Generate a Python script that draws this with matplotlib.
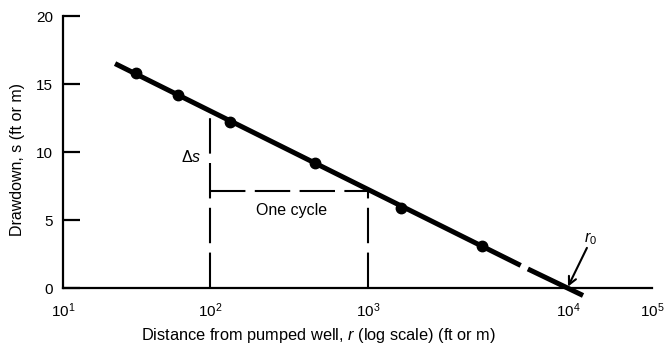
import numpy as np
import matplotlib
matplotlib.use('Agg')
from matplotlib import pyplot as plt

plt.rcParams['font.family'] = ['Liberation Sans', 'DejaVu Sans']
plt.rcParams['mathtext.fontset'] = 'custom'
plt.rcParams['mathtext.rm'] = 'Liberation Sans'
plt.rcParams['mathtext.it'] = 'Liberation Sans:italic'

# observed drawdown at observation wells
dist_obs = [31.4, 60.5, 134, 462, 1462, 3715]
drawdown_obs = [15.8, 14.2, 12.2, 9.2, 5.9, 3.1]

# fitted straight line (solid part and dashed extrapolation to r0)
fit_x = [22.6, 5800]
fit_y = [16.5, 1.66]
ext_x = [6300, 15100]
ext_y = [1.4, -0.55]

# one log cycle construction
cycle_x = [100, 1000]
cycle_top = 12.95
cycle_s = 7.1

x_ticks = [1e1, 1e2, 1e3, 1e4, 1e5]
x_ticklabels = ['$10^{1}$', '$10^{2}$', '$10^{3}$', '$10^{4}$', '$10^{5}$']
y_ticks = [0, 5, 10, 15, 20]

# the printed axis is not evenly spaced per decade: piecewise log mapping
decades = [1, 2, 3, 4, 5]
decade_px = [63, 210, 368, 568, 652]


def forward(x):
    x = np.asarray(x, dtype=float)
    lx = np.log10(np.where(x > 0, x, 1e-300))
    return np.interp(lx, decades, decade_px)


def inverse(p):
    p = np.asarray(p, dtype=float)
    return 10 ** np.interp(p, decade_px, decades)


fig = plt.figure(figsize=(6.64, 3.47), dpi=100)
ax = fig.add_axes([63 / 664, 1 - 288 / 347, 589 / 664, 272 / 347])
ax.set_xscale('function', functions=(forward, inverse))
ax.set_xlim(10, 1e5)
ax.set_ylim(0, 20)

for side in ['top', 'right']:
    ax.spines[side].set_visible(False)
for side in ['left', 'bottom']:
    ax.spines[side].set_linewidth(1.6)

ax.set_xticks(x_ticks)
ax.set_xticklabels(x_ticklabels)
ax.set_xticks([1e5], minor=True)
ax.set_yticks(y_ticks)
ax.tick_params(axis='x', which='major', length=0, pad=10, labelsize=11)
ax.tick_params(axis='x', which='minor', direction='in', length=11, width=1.6)
ax.tick_params(axis='y', direction='in', length=12, width=1.6, pad=7, labelsize=11)
ax.yaxis.set_minor_locator(matplotlib.ticker.NullLocator())

# construction lines
dash = (0, (17, 4.5))
ax.plot([cycle_x[0], cycle_x[0]], [0, cycle_top], color='black', lw=1.5, ls=dash, clip_on=False)
ax.plot([cycle_x[1], cycle_x[1]], [0, cycle_s], color='black', lw=1.5, ls=dash, clip_on=False)
ax.plot(cycle_x, [cycle_s, cycle_s], color='black', lw=1.5, ls=dash, clip_on=False)

# fitted line and data
ax.plot(fit_x, fit_y, color='black', lw=3.6, solid_capstyle='butt', clip_on=False)
ax.plot(ext_x, ext_y, color='black', lw=3.6, solid_capstyle='butt', clip_on=False)
ax.plot(dist_obs, drawdown_obs, 'o', color='black', ms=7.5, clip_on=False)

ax.text(87, 9.6, r'$\Delta\mathit{s}$', ha='right', va='center', fontsize=11.5)
ax.text(326, 5.7, 'One cycle', ha='center', va='center', fontsize=11.5)
ax.annotate('', xy=(1e4, 0.1), xytext=(16800, 2.95),
            arrowprops=dict(arrowstyle='->', lw=1.5, color='black', mutation_scale=14,
                            shrinkA=0, shrinkB=0))
ax.text(15300, 3.0, r'$\mathit{r_0}$', ha='left', va='bottom', fontsize=11.5)

ax.set_xlabel(r'Distance from pumped well, $\mathit{r}$ (log scale) (ft or m)', fontsize=11.8, labelpad=4)
ax.set_ylabel('Drawdown, s (ft or m)', fontsize=11.5, labelpad=8)
ax.xaxis.label.set_x((319 - 63) / 589)
ax.yaxis.label.set_y((288 - 160) / 272)

fig.savefig('out.png', dpi=100)
